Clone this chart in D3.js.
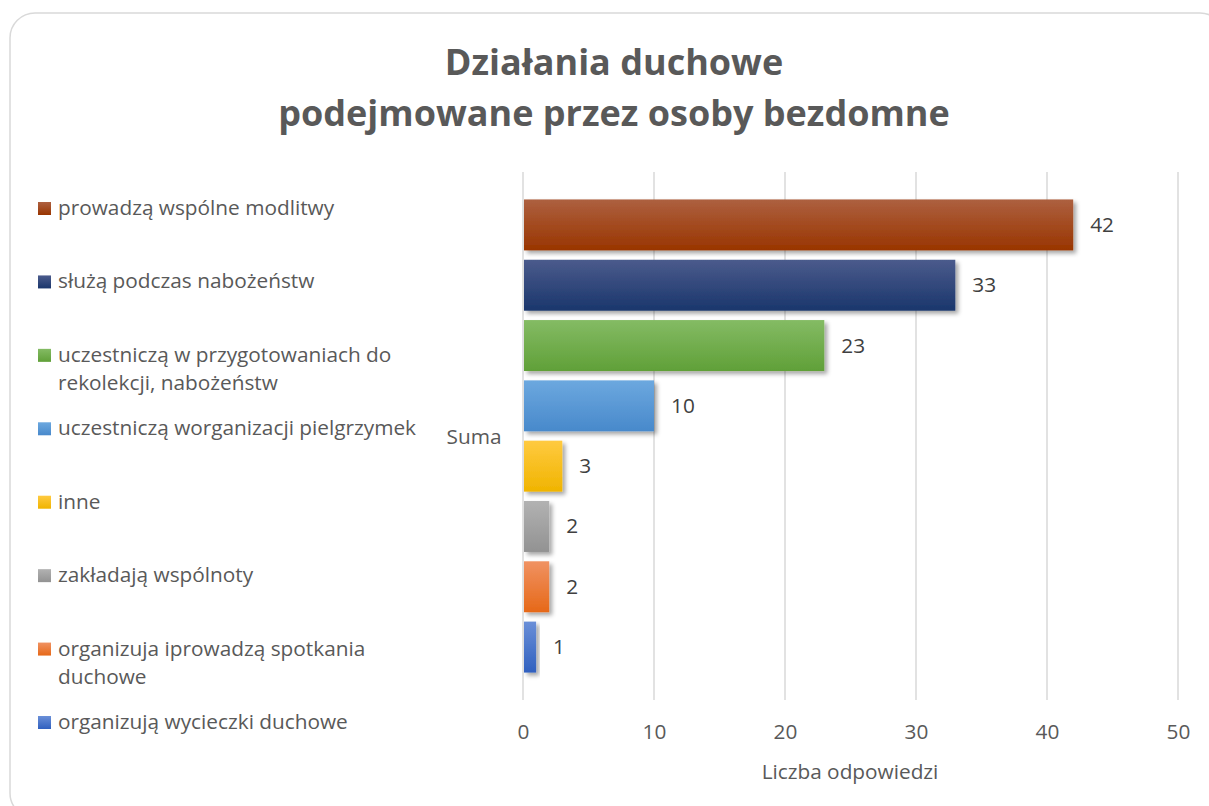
<!DOCTYPE html>
<html>
<head>
<meta charset="utf-8">
<script src="https://d3js.org/d3.v7.min.js"></script>
<style>
  body { margin: 0; background: #fff; }
  text { font-family: "Open Sans", Lato, sans-serif; fill: #595959; }
  .title { font-weight: 700; font-size: 36px; }
  .legend { font-size: 20.8px; }
  .tick text { font-size: 20.8px; }
  .lbl { font-size: 20.8px; fill: #404040; }
</style>
</head>
<body>
<script>
var categories = ["prowadzą wspólne modlitwy", "służą podczas nabożeństw",
  "uczestniczą w przygotowaniach do rekolekcji, nabożeństw",
  "uczestniczą worganizacji pielgrzymek", "inne", "zakładają wspólnoty",
  "organizuja iprowadzą spotkania duchowe", "organizują wycieczki duchowe"];
var legendLines = [["prowadzą wspólne modlitwy"], ["służą podczas nabożeństw"],
  ["uczestniczą w przygotowaniach do", "rekolekcji, nabożeństw"],
  ["uczestniczą worganizacji pielgrzymek"], ["inne"], ["zakładają wspólnoty"],
  ["organizuja iprowadzą spotkania", "duchowe"], ["organizują wycieczki duchowe"]];
var values = [42, 33, 23, 10, 3, 2, 2, 1];
var colorsTop = ["#ad6040", "#4b5b8c", "#84bb64", "#6ca8df", "#ffca40", "#b2b2b2", "#f09262", "#6a8fd8"];
var colorsBottom = ["#993500", "#1a366c", "#60a038", "#4889cb", "#f0b400", "#929292", "#e66818", "#3060bf"];
var xTicks = [0, 10, 20, 30, 40, 50];
var titleLines = ["Działania duchowe", "podejmowane przez osoby bezdomne"];

var W = 1209, H = 806;
var svg = d3.select("body").append("svg").attr("width", W).attr("height", H);
var defs = svg.append("defs");

var f = defs.append("filter").attr("id", "shadow")
  .attr("x", "-20%").attr("y", "-20%").attr("width", "150%").attr("height", "160%");
f.append("feDropShadow").attr("dx", 3).attr("dy", 3).attr("stdDeviation", 2.2)
  .attr("flood-color", "#000").attr("flood-opacity", 0.35);

categories.forEach(function(c, i) {
  var g = defs.append("linearGradient").attr("id", "grad" + i)
    .attr("x1", 0).attr("y1", 0).attr("x2", 0).attr("y2", 1);
  g.append("stop").attr("offset", "0%").attr("stop-color", colorsTop[i]);
  g.append("stop").attr("offset", "100%").attr("stop-color", colorsBottom[i]);
});

// frame
svg.append("rect").attr("x", 10).attr("y", 13).attr("width", 1215).attr("height", 805)
  .attr("rx", 25).attr("ry", 25).attr("fill", "#fff")
  .attr("stroke", "#d9d9d9").attr("stroke-width", 1.5);

// title
svg.selectAll(".title").data(titleLines).enter().append("text")
  .attr("class", "title").attr("text-anchor", "middle")
  .attr("x", 614).attr("y", function(d, i) { return 75 + i * 51; })
  .text(function(d) { return d; });

var plotTop = 172, plotBottom = 700;
var x = d3.scaleLinear().domain([0, 50]).range([523, 1178]);
var y = d3.scaleBand().domain(categories).range([plotTop, plotBottom])
  .paddingInner(0.155).paddingOuter(0.455);

// grid
svg.append("g").selectAll("line").data(xTicks).enter().append("line")
  .attr("x1", function(d) { return x(d); }).attr("x2", function(d) { return x(d); })
  .attr("y1", plotTop).attr("y2", plotBottom)
  .attr("stroke", "#d9d9d9").attr("stroke-width", 1.5);

// axis
var xAxis = svg.append("g").attr("transform", "translate(0," + plotBottom + ")")
  .call(d3.axisBottom(x).tickValues(xTicks).tickSize(0).tickPadding(24));
xAxis.select(".domain").remove();
xAxis.selectAll(".tick text").style("fill", "#595959");

svg.append("text").attr("class", "legend").attr("text-anchor", "middle")
  .attr("x", 850).attr("y", 779).text("Liczba odpowiedzi");

svg.append("text").attr("class", "legend").attr("text-anchor", "middle")
  .attr("x", 474).attr("y", 444).text("Suma");

// bars
svg.append("g").selectAll("rect").data(values).enter().append("rect")
  .attr("x", x(0) + 1)
  .attr("y", function(d, i) { return y(categories[i]); })
  .attr("width", function(d) { return x(d) - x(0) - 1; })
  .attr("height", y.bandwidth())
  .attr("fill", function(d, i) { return "url(#grad" + i + ")"; })
  .attr("filter", "url(#shadow)");

svg.append("g").selectAll("text").data(values).enter().append("text")
  .attr("class", "lbl")
  .attr("x", function(d) { return x(d) + 17; })
  .attr("y", function(d, i) { return y(categories[i]) + y.bandwidth() / 2 + 7; })
  .text(function(d) { return d; });

// legend
var ly = d3.scalePoint().domain(categories).range([208, 722]);
var leg = svg.append("g").selectAll("g").data(categories).enter().append("g")
  .attr("transform", function(d) { return "translate(0," + ly(d) + ")"; });
leg.append("rect").attr("x", 38).attr("y", -6).attr("width", 13).attr("height", 13)
  .attr("fill", function(d, i) { return "url(#grad" + i + ")"; });
leg.append("text").attr("class", "legend").attr("x", 58).attr("y", 7)
  .selectAll("tspan").data(function(d, i) { return legendLines[i]; }).enter()
  .append("tspan").attr("x", 58).attr("dy", function(d, j) { return j ? 28 : 0; })
  .text(function(d) { return d; });
</script>
</body>
</html>
